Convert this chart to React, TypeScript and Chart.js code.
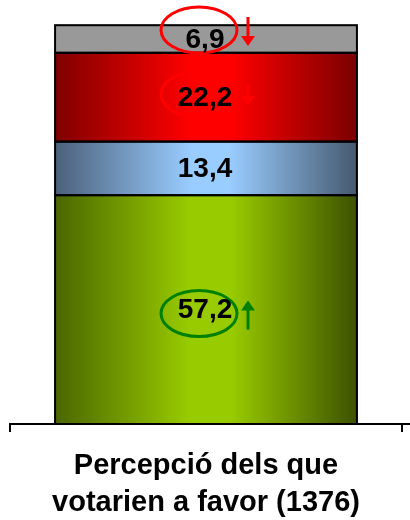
import React, { useEffect, useRef } from 'react';
import { Chart, registerables } from 'chart.js';

Chart.register(...registerables);

// ---- data ----
const categories = [['Percepció dels que', 'votarien a favor (1376)']];
const seriesNames = ['Verd', 'Blau', 'Vermell', 'Gris'];
const greenValues = [57.2];
const blueValues = [13.4];
const redValues = [22.2];
const grayValues = [6.9];
const trendArrows = ['up', null, 'down', 'down'];
const circled = [true, false, true, true];

// ---- styles ----
const FONT = '"Liberation Sans", Arial, Helvetica, sans-serif';
const BAR_PCT = 0.77;
const fills = [
  { l: '#4a6600', m: '#99cc00', r: '#3d5200' },
  { l: '#4b607a', m: '#99ccff', r: '#46596f' },
  { l: '#800000', m: '#ff0000', r: '#7a0000' },
  { l: '#999999', m: '#999999', r: '#999999' },
];
const annColors = ['#008000', '#000000', '#ff0000', '#ff0000'];
const ellipseDy = [4, 0, -3, -9];
const arrowDy = [
  [20, -9],
  [0, 0],
  [-12, 9],
  [-22, 7],
];

const makeFill = (f: { l: string; m: string; r: string }) => (ctx: any) => {
  const chart = ctx.chart;
  const area = chart.chartArea;
  if (!area) return f.m;
  const center = (area.left + area.right) / 2;
  const w = (area.right - area.left) * BAR_PCT;
  const g = chart.ctx.createLinearGradient(center - w / 2, 0, center + w / 2, 0);
  g.addColorStop(0, f.l);
  g.addColorStop(0.45, f.m);
  g.addColorStop(0.58, f.m);
  g.addColorStop(1, f.r);
  return g;
};

const fmt = (v: number) => v.toFixed(1).replace('.', ',');

const labelPlugin = {
  id: 'segLabels',
  afterDatasetsDraw(chart: any) {
    const ctx = chart.ctx;
    ctx.save();
    // borders
    chart.data.datasets.forEach((ds: any, i: number) => {
      const meta = chart.getDatasetMeta(i);
      meta.data.forEach((el: any) => {
        const { x, y, base, width } = el.getProps(['x', 'y', 'base', 'width'], true);
        ctx.strokeStyle = '#000';
        ctx.lineWidth = 2;
        ctx.strokeRect(x - width / 2, Math.min(y, base), width, Math.abs(base - y));
      });
    });
    chart.data.datasets.forEach((ds: any, i: number) => {
      const meta = chart.getDatasetMeta(i);
      meta.data.forEach((el: any, j: number) => {
        const { x, y, base } = el.getProps(['x', 'y', 'base'], true);
        const cx = x - 1;
        const cy = (y + base) / 2;
        const col = annColors[i];
        if (circled[i]) {
          ctx.beginPath();
          ctx.ellipse(cx - 6, cy + ellipseDy[i], 38, 23, 0, 0, Math.PI * 2);
          ctx.strokeStyle = col;
          ctx.lineWidth = 3;
          ctx.stroke();
        }
        const dir = trendArrows[i];
        if (dir) {
          const ax = cx + 43;
          const [y0, y1] = arrowDy[i];
          const tail = cy + y0;
          const tip = cy + y1;
          const s = tip > tail ? 1 : -1;
          ctx.beginPath();
          ctx.moveTo(ax, tail);
          ctx.lineTo(ax, tip - s * 9);
          ctx.strokeStyle = col;
          ctx.lineWidth = 3;
          ctx.stroke();
          ctx.beginPath();
          ctx.moveTo(ax - 7, tip - s * 10);
          ctx.lineTo(ax + 7, tip - s * 10);
          ctx.lineTo(ax, tip);
          ctx.closePath();
          ctx.fillStyle = col;
          ctx.fill();
        }
        ctx.font = `bold 28px ${FONT}`;
        ctx.fillStyle = '#000';
        ctx.textAlign = 'center';
        ctx.textBaseline = 'middle';
        ctx.fillText(fmt(ds.data[j]), cx, cy + 1);
      });
    });
    ctx.restore();
  },
  afterDraw(chart: any) {
    const { ctx, chartArea } = chart;
    ctx.save();
    ctx.beginPath();
    ctx.moveTo(chartArea.right, chartArea.bottom);
    ctx.lineTo(chart.width, chartArea.bottom);
    ctx.strokeStyle = '#000';
    ctx.lineWidth = 2;
    ctx.stroke();
    ctx.restore();
  },
};

export default function App() {
  const ref = useRef<HTMLCanvasElement | null>(null);
  useEffect(() => {
    if (!ref.current) return;
    const seriesValues = [greenValues, blueValues, redValues, grayValues];
    const chart = new Chart(ref.current, {
      type: 'bar',
      data: {
        labels: categories as any,
        datasets: seriesValues.map((vals, i) => ({
          label: seriesNames[i],
          data: vals,
          backgroundColor: makeFill(fills[i]) as any,
          borderWidth: 0,
          inflateAmount: 0.5,
          categoryPercentage: 1,
          barPercentage: BAR_PCT,
        })),
      },
      options: {
        responsive: false,
        animation: false,
        layout: { padding: { top: 24, left: 10, right: 8, bottom: 0 } },
        plugins: { legend: { display: false }, tooltip: { enabled: false } },
        scales: {
          x: {
            stacked: true,
            offset: true,
            afterFit: (scale: any) => {
              scale.height = 96;
            },
            grid: {
              display: true,
              offset: true,
              drawOnChartArea: false,
              drawTicks: true,
              tickLength: 8,
              color: '#000',
              lineWidth: 2,
            },
            border: { display: true, color: '#000', width: 2 },
            ticks: {
              color: '#000',
              padding: 15,
              maxRotation: 0,
              font: { family: FONT, size: 29, weight: 'bold', lineHeight: '37px' } as any,
            },
          },
          y: {
            stacked: true,
            display: false,
            min: 0,
            max: 100,
          },
        },
      },
      plugins: [labelPlugin],
    });
    return () => chart.destroy();
  }, []);
  return (
    <div style={{ position: 'absolute', left: 0, top: 0, width: 410, height: 520, background: '#fff' }}>
      <canvas ref={ref} width={410} height={520} style={{ display: 'block' }} />
    </div>
  );
}
